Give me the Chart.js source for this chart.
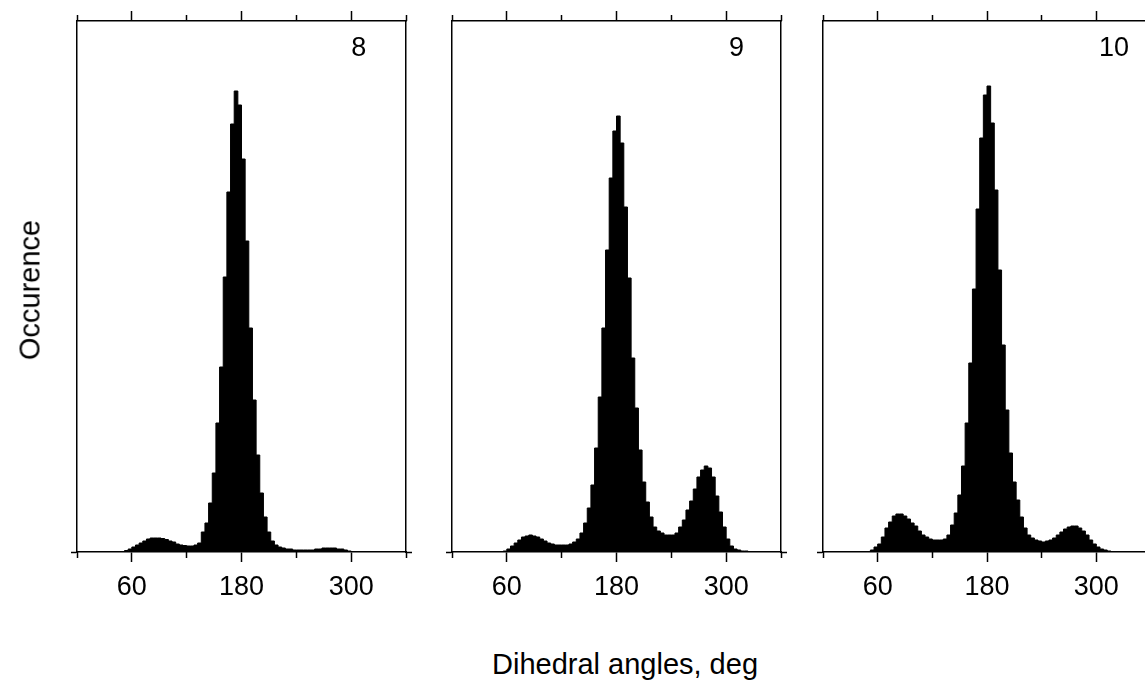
<!DOCTYPE html>
<html>
<head>
<meta charset="utf-8">
<script src="https://cdn.jsdelivr.net/npm/chart.js@4.4.0/dist/chart.umd.min.js"></script>
<style>
  html, body { margin: 0; padding: 0; background: #fff; }
  body { width: 1145px; height: 682px; position: relative; overflow: hidden; font-family: "Liberation Sans", Arial, sans-serif; color: #000; }
  canvas { position: absolute; top: 0; }
  .ytitle { position: absolute; left: 30px; top: 290px; transform: translate(-50%, -50%) rotate(-90deg); font-size: 29px; white-space: nowrap; }
  .xtitle { position: absolute; left: 625px; top: 664px; transform: translate(-50%, -50%); font-size: 29px; white-space: nowrap; }
</style>
</head>
<body>
<canvas id="panel8"></canvas>
<canvas id="panel9"></canvas>
<canvas id="panel10"></canvas>
<div class="ytitle">Occurence</div>
<div class="xtitle">Dihedral angles, deg</div>
<script>
// Histogram data: 90 bins of 4 degrees each, 0..360
const binWidth = 4;
const majorTicks = [60, 180, 300];
const minorTicks = [0, 120, 240, 360];

const occ8 = [
  0, 0, 0, 0, 0, 0, 0, 0, 0, 0,
  0, 0, 0.5, 1.5, 3, 5, 7, 9, 11, 13,
  14, 14, 14, 13.5, 12.5, 11, 10, 8, 7, 6.5,
  6, 6, 7, 9, 20, 29, 49, 79, 129, 185,
  275, 360, 428, 461, 447, 393, 311, 224, 152, 97,
  59, 35, 20, 11, 7, 5, 4, 3, 3, 2,
  2, 2, 2, 2, 2, 3, 3, 4, 4, 4,
  4, 3, 3, 2, 1, 0.5, 0, 0, 0, 0,
  0, 0, 0, 0, 0, 0, 0, 0, 0, 0
];

const occ9 = [
  0, 0, 0, 0, 0, 0, 0, 0, 0, 0,
  0, 0, 0, 0.5, 1, 3, 6, 9, 12, 15,
  16, 17, 16, 15, 13, 11, 9, 8, 7, 7,
  7, 7, 8, 10, 13, 19, 29, 44, 67, 104,
  155, 224, 302, 374, 421, 436, 409, 345, 274, 194,
  144, 102, 70, 50, 35, 25, 21, 19, 17, 17,
  17, 19, 25, 32, 42, 51, 63, 75, 82, 86,
  84, 75, 56, 40, 25, 13, 6, 3, 2, 1,
  1, 0, 0, 0, 0, 0, 0, 0, 0, 0
];

const occ10 = [
  0, 0, 0, 0, 0, 0, 0, 0, 0, 0,
  0, 0, 0.5, 2, 5, 8, 15, 24, 30, 36,
  38, 38, 36, 33, 29, 26, 21, 17, 15, 13,
  12, 12, 12, 13, 17, 27, 39, 57, 86, 129,
  189, 263, 343, 414, 457, 466, 429, 362, 282, 207,
  142, 99, 70, 52, 35, 24, 17, 14, 12, 11,
  10, 11, 12, 14, 17, 20, 23, 25, 26, 26,
  24, 21, 17, 12, 8, 5, 3, 2, 1, 0.5,
  0, 0, 0, 0, 0, 0, 0, 0, 0, 0
];

const yMax = 531;
const fontFamily = '"Liberation Sans", Arial, sans-serif';

// panel number drawn inside the plot, placed with the chart's scales
const panelLabel = {
  id: 'panelLabel',
  afterDatasetsDraw(chart, args, opts) {
    const { ctx, scales } = chart;
    ctx.save();
    ctx.font = '27px ' + fontFamily;
    ctx.fillStyle = '#000';
    ctx.textAlign = 'left';
    ctx.textBaseline = 'middle';
    ctx.fillText(opts.text, scales.x.getPixelForValue(opts.x), scales.y.getPixelForValue(opts.y));
    ctx.restore();
  }
};

function tickList(values) {
  return (scale) => { scale.ticks = values.map(v => ({ value: v })); };
}

function makePanel(id, values, text, labelX, areaLeft, areaWidth) {
  const canvas = document.getElementById(id);
  canvas.width = areaWidth + 90;
  canvas.height = 620;
  canvas.style.left = (areaLeft - 77) + 'px';

  const points = values.map((v, i) => ({ x: i * binWidth, y: v }));
  points.push({ x: 360, y: 0 });

  const xBase = { type: 'linear', min: 0, max: 360 };
  const yBase = {
    type: 'linear', min: 0, max: yMax,
    ticks: { display: false },
    grid: { drawOnChartArea: false, tickLength: 6, tickWidth: 1.5, tickColor: '#000' },
    border: { color: '#000', width: 1.5 },
    afterBuildTicks: tickList([0]),
    afterFit: s => { s.width = 6; }
  };

  return new Chart(canvas.getContext('2d'), {
    type: 'line',
    data: {
      datasets: [{
        data: points,
        stepped: true,
        fill: 'origin',
        backgroundColor: '#000',
        borderColor: '#000',
        borderWidth: 1,
        pointRadius: 0
      }]
    },
    plugins: [panelLabel],
    options: {
      responsive: false,
      animation: false,
      layout: { padding: { left: 71, right: 7, top: 11, bottom: 8 } },
      plugins: {
        legend: { display: false },
        tooltip: { enabled: false },
        panelLabel: { text: text, x: labelX, y: 503 }
      },
      scales: {
        x: {
          ...xBase, position: 'bottom', weight: 1,
          afterBuildTicks: tickList(majorTicks),
          ticks: { color: '#000', padding: 9, maxRotation: 0, font: { size: 27, family: fontFamily } },
          grid: { drawOnChartArea: false, tickLength: 10, tickWidth: 1.5, tickColor: '#000' },
          border: { color: '#000', width: 1.5 },
          afterFit: s => { s.height = 60; }
        },
        xMinor: {
          ...xBase, position: 'bottom', weight: 0,
          afterBuildTicks: tickList(minorTicks),
          ticks: { display: false },
          grid: { drawOnChartArea: false, tickLength: 6, tickWidth: 1.5, tickColor: '#000' },
          border: { display: false },
          afterFit: s => { s.height = 0; }
        },
        xTop: {
          ...xBase, position: 'top', weight: 1,
          afterBuildTicks: tickList(majorTicks),
          ticks: { display: false },
          grid: { drawOnChartArea: false, tickLength: 10, tickWidth: 1.5, tickColor: '#000' },
          border: { color: '#000', width: 1.5 },
          afterFit: s => { s.height = 10; }
        },
        xTopMinor: {
          ...xBase, position: 'top', weight: 0,
          afterBuildTicks: tickList(minorTicks),
          ticks: { display: false },
          grid: { drawOnChartArea: false, tickLength: 6, tickWidth: 1.5, tickColor: '#000' },
          border: { display: false },
          afterFit: s => { s.height = 0; }
        },
        y: { ...yBase, position: 'left' },
        yRight: { ...yBase, position: 'right' }
      }
    }
  });
}

makePanel('panel8', occ8, '8', 300, 77, 329);
makePanel('panel9', occ9, '9', 303, 452, 329);
makePanel('panel10', occ10, '10', 303, 823, 328);
</script>
</body>
</html>
